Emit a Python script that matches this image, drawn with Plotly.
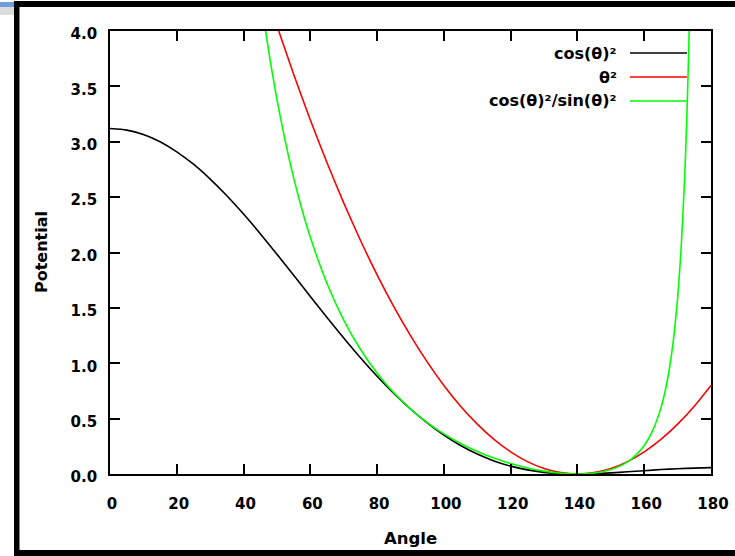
import plotly.graph_objects as go

# ---------------- data ----------------
angle_black = [0, 5, 10, 15, 20, 25, 30, 35, 40, 45, 50, 55, 60, 65, 70, 75, 80, 85, 90,
               95, 100, 105, 110, 115, 120, 125, 130, 135, 140, 145, 150, 155, 160, 165,
               170, 175, 180]
v_black = [3.119, 3.105, 3.065, 3.0, 2.909, 2.797, 2.663, 2.513, 2.347, 2.170, 1.985,
           1.795, 1.603, 1.413, 1.228, 1.050, 0.883, 0.728, 0.587, 0.461, 0.351, 0.257,
           0.180, 0.118, 0.071, 0.037, 0.015, 0.004, 0.0, 0.003, 0.010, 0.020, 0.030,
           0.040, 0.048, 0.053, 0.058]

angle_red = [50, 55, 60, 65, 70, 75, 80, 85, 90, 95, 100, 105, 110, 115, 120, 125, 130,
             135, 140, 145, 150, 155, 160, 165, 170, 175, 180]
v_red = [4.047, 3.609, 3.197, 2.810, 2.448, 2.111, 1.798, 1.511, 1.249, 1.012, 0.799,
         0.612, 0.450, 0.312, 0.200, 0.112, 0.050, 0.0125, 0.0, 0.0125, 0.050, 0.112,
         0.200, 0.312, 0.450, 0.612, 0.799]

angle_green = [45, 46, 47, 48, 50, 52.5, 55, 57.5, 60, 65, 70, 75, 80, 85, 90, 95, 100,
               105, 110, 115, 120, 125, 130, 135, 140, 145, 147.5, 150, 152.5, 155, 157.5,
               160, 162.5, 165, 166, 167, 168, 169, 170, 171, 172, 172.5, 173, 173.5, 174]
v_green = [4.34, 4.124, 3.920, 3.729, 3.382, 3.003, 2.674, 2.388, 2.137, 1.720, 1.390,
           1.126, 0.910, 0.734, 0.587, 0.464, 0.362, 0.276, 0.204, 0.144, 0.094, 0.055,
           0.026, 0.007, 0.0, 0.009, 0.021, 0.040, 0.069, 0.110, 0.170, 0.258, 0.390,
           0.597, 0.713, 0.858, 1.041, 1.277, 1.586, 2.010, 2.605, 2.982, 3.456, 4.040,
           4.778]

series_names = ["cos(θ)²", "θ²", "cos(θ)²/sin(θ)²"]
series_colors = ["#000000", "#ff0000", "#00ff00"]

x_ticks = [0, 20, 40, 60, 80, 100, 120, 140, 160, 180]
y_ticks = [0.0, 0.5, 1.0, 1.5, 2.0, 2.5, 3.0, 3.5, 4.0]
y_tick_text = ["0.0", "0.5", "1.0", "1.5", "2.0", "2.5", "3.0", "3.5", "4.0"]

x_title = "Angle"
y_title = "Potential"

# ---------------- layout geometry ----------------
W, H = 735, 556
L, R, T, B = 110, 24, 31, 82
PW, PH = W - L - R, H - T - B


def xp(px):
    return (px - L) / PW


def yp(py):
    return (H - B - py) / PH


FONT = "DejaVu Sans"

fig = go.Figure()
for xs, ys, name, col in zip([angle_black, angle_red, angle_green],
                             [v_black, v_red, v_green], series_names, series_colors):
    fig.add_trace(go.Scatter(x=xs, y=ys, mode="lines", name=name,
                             line=dict(color=col, width=1.6, shape="spline", smoothing=0.6),
                             showlegend=False))

axis_common = dict(
    showgrid=False, zeroline=False, showline=True, linecolor="black", linewidth=1.8,
    mirror="ticks", ticks="inside", ticklen=10, tickwidth=1.5, tickcolor="black",
    tickfont=dict(family=FONT, size=15, color="black", weight="bold"),
)

fig.update_layout(
    width=W, height=H,
    margin=dict(l=L, r=R, t=T, b=B, autoexpand=False),
    paper_bgcolor="white", plot_bgcolor="white",
    xaxis=dict(range=[0, 180], tickvals=x_ticks, ticklabelstandoff=15, ticklabelshift=2,
               **axis_common),
    yaxis=dict(range=[0, 4.0], tickvals=y_ticks, ticktext=y_tick_text,
               ticklabelstandoff=8, ticklabelshift=3, **axis_common),
)

shapes = []
annotations = []

# axis titles
annotations.append(dict(text=x_title, x=xp(410), y=yp(538), xref="paper", yref="paper",
                        showarrow=False, xanchor="center", yanchor="middle",
                        font=dict(family=FONT, size=16.5, color="black", weight="bold")))
annotations.append(dict(text=y_title, x=xp(41), y=yp(252), xref="paper", yref="paper",
                        showarrow=False, xanchor="center", yanchor="middle", textangle=-90,
                        font=dict(family=FONT, size=16, color="black", weight="bold")))

# legend (text right-aligned, sample line on the right)
rows = [53, 77, 101]
for name, col, ry in zip(series_names, series_colors, rows):
    annotations.append(dict(text=name, x=xp(619), y=yp(ry), xref="paper", yref="paper",
                            showarrow=False, xanchor="right", yanchor="middle",
                            font=dict(family=FONT, size=16, color="black", weight="bold")))
    shapes.append(dict(type="line", xref="paper", yref="paper",
                       x0=xp(630), x1=xp(687), y0=yp(ry), y1=yp(ry),
                       line=dict(color=col, width=1.6)))

# outer decorative frame
shapes.append(dict(type="rect", xref="paper", yref="paper", x0=xp(0), x1=xp(14),
                   y0=yp(2), y1=yp(7), fillcolor="#6f9fd8", line=dict(width=0), layer="below"))
shapes.append(dict(type="rect", xref="paper", yref="paper", x0=xp(0), x1=xp(14),
                   y0=yp(7), y1=yp(15), fillcolor="#dcdcdc", line=dict(width=0), layer="below"))
shapes.append(dict(type="rect", xref="paper", yref="paper", x0=xp(14), x1=xp(19.5),
                   y0=yp(1), y1=yp(H), fillcolor="black", line=dict(width=0)))
shapes.append(dict(type="rect", xref="paper", yref="paper", x0=xp(14), x1=xp(W),
                   y0=yp(1), y1=yp(7), fillcolor="black", line=dict(width=0)))
shapes.append(dict(type="rect", xref="paper", yref="paper", x0=xp(14), x1=xp(W),
                   y0=yp(550), y1=yp(H), fillcolor="black", line=dict(width=0)))

fig.update_layout(shapes=shapes, annotations=annotations)

fig.write_html("out.html")
